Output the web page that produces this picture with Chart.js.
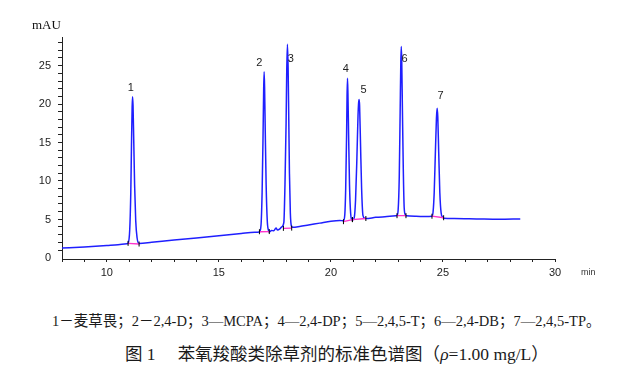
<!DOCTYPE html>
<html>
<head>
<meta charset="utf-8">
<script src="https://cdn.jsdelivr.net/npm/chart.js@4.4.0/dist/chart.umd.min.js"></script>
<style>
  html, body { margin: 0; padding: 0; background: #fff; }
  #wrap { position: relative; width: 640px; height: 381px; overflow: hidden; }
  #c { position: absolute; left: 0; top: 0; }
  .txt { position: absolute; white-space: nowrap; color: #111; }
  #mau { left: 32px; top: 17px; font: 13px "Liberation Serif", "DejaVu Serif", serif; }
  #minlbl { left: 581px; top: 267px; font: 9px "Liberation Sans", Arial, sans-serif; color: #333; }
  #cap1 { left: 52px; top: 309px; font: 14.5px "Liberation Serif", "Noto Sans CJK SC", serif; color: #1a1a1a; }
  #cap2 { left: 125px; top: 340px; font: 17.5px "Liberation Serif", "Noto Sans CJK SC", serif; color: #1a1a1a; }
  #cap2 .gap { display: inline-block; width: 22px; }
</style>
</head>
<body>
<div id="wrap">
  <canvas id="c" width="640" height="290"></canvas>
  <div class="txt" id="mau">mAU</div>
  <div class="txt" id="minlbl">min</div>
  <div class="txt" id="cap1">1－麦草畏；2－2,4-D；3—MCPA；4—2,4-DP；5—2,4,5-T；6—2,4-DB；7—2,4,5-TP。</div>
  <div class="txt" id="cap2">图 1<span class="gap"></span>苯氧羧酸类除草剂的标准色谱图（<i>ρ</i>=1.00 mg/L）</div>
</div>
<script>
// Chromatogram trace: retention time (min) and absorbance (mAU)
const traceTime = [
  8.0, 9.0, 10.0, 10.5, 10.9,
  10.95, 11.02, 11.07, 11.10, 11.13, 11.15, 11.17, 11.20, 11.24, 11.29, 11.35, 11.44,
  12.0, 13.0, 14.0, 15.0, 16.0, 16.6, 16.81,
  16.88, 16.93, 16.97, 17.00, 17.02, 17.04, 17.07, 17.11, 17.16, 17.21, 17.25,
  17.35, 17.45, 17.55, 17.62, 17.72, 17.80,
  17.90, 17.95, 18.00, 18.03, 18.06, 18.09, 18.12, 18.15, 18.19, 18.24, 18.30,
  18.6, 19.0, 19.5, 20.0, 20.4, 20.56,
  20.62, 20.66, 20.70, 20.72, 20.74, 20.76, 20.79, 20.83, 20.88, 20.94, 20.97,
  21.04, 21.10, 21.16, 21.21, 21.24, 21.26, 21.28, 21.32, 21.37, 21.43, 21.50, 21.56,
  22.0, 22.5, 22.9, 22.95,
  23.00, 23.05, 23.09, 23.12, 23.14, 23.16, 23.19, 23.23, 23.27, 23.32, 23.36,
  23.8, 24.2, 24.51,
  24.56, 24.61, 24.66, 24.71, 24.74, 24.77, 24.81, 24.86, 24.92, 24.98, 25.03,
  25.5, 26.5, 27.5, 28.45
];
const traceMAU = [
  0.25, 0.4, 0.6, 0.7, 0.82,
  0.9, 2.5, 7.5, 13.5, 18.6, 19.96, 18.8, 14.5, 8.5, 3.8, 1.6, 0.85,
  1.0, 1.3, 1.55, 1.85, 2.15, 2.3, 2.35,
  3.2, 7.5, 14.5, 21.0, 23.2, 21.3, 15.5, 8.5, 3.8, 2.6, 2.35,
  2.55, 2.5, 2.85, 2.6, 2.75, 3.0,
  3.6, 8.5, 16.5, 23.5, 26.8, 23.8, 17.0, 10.0, 4.8, 3.1, 2.95,
  3.05, 3.25, 3.5, 3.75, 3.85, 3.8,
  4.6, 8.0, 15.0, 20.0, 22.35, 20.3, 15.0, 8.5, 4.8, 3.9, 3.9,
  4.2, 6.5, 12.0, 17.5, 19.3, 19.6, 18.8, 14.0, 8.0, 4.5, 4.15, 4.1,
  4.25, 4.35, 4.45, 4.5,
  5.2, 9.5, 18.0, 24.5, 26.5, 24.8, 18.5, 10.5, 5.5, 4.6, 4.45,
  4.4, 4.35, 4.4,
  5.0, 7.5, 12.5, 17.2, 18.45, 17.3, 12.8, 7.5, 4.8, 4.3, 4.15,
  4.1, 4.05, 4.0, 4.05
];

// Integration baselines: start / end of each peak
const intStartT = [10.95, 16.81, 17.88, 20.56, 20.96, 22.95, 24.51];
const intStartY = [0.87, 2.38, 2.82, 3.69, 3.96, 4.47, 4.40];
const intEndT   = [11.44, 17.25, 18.25, 20.96, 21.56, 23.35, 25.03];
const intEndY   = [0.78, 2.40, 2.85, 3.96, 4.10, 4.47, 4.20];

// Peak number labels
const peakLabels = ['1', '2', '3', '4', '5', '6', '7'];
const labelT = [11.07, 16.81, 18.21, 20.67, 21.46, 23.29, 24.89];
const labelY = [21.1, 24.3, 24.83, 23.53, 20.83, 24.87, 20.1];

// Axis tick values
const xTickLabels = [10, 15, 20, 25, 30];
const yTickLabels = [0, 5, 10, 15, 20, 25];

const tracePts = traceTime.map((t, i) => ({ x: t, y: traceMAU[i] }));
const intPts = [];
const markPts = [];
intStartT.forEach((t, i) => {
  intPts.push({ x: t, y: intStartY[i] });
  intPts.push({ x: intEndT[i], y: intEndY[i] });
  intPts.push({ x: intEndT[i], y: null });
  markPts.push({ x: t, y: intStartY[i] });
  markPts.push({ x: intEndT[i], y: intEndY[i] });
});

const peakLabelPlugin = {
  id: 'peakLabels',
  afterDatasetsDraw(chart) {
    const { ctx, scales } = chart;
    ctx.save();
    ctx.fillStyle = '#222';
    ctx.font = '11px "Liberation Sans", Arial, sans-serif';
    ctx.textAlign = 'center';
    ctx.textBaseline = 'middle';
    peakLabels.forEach((s, i) => {
      ctx.fillText(s, scales.x.getPixelForValue(labelT[i]), scales.y.getPixelForValue(labelY[i]));
    });
    ctx.restore();
  }
};

const intTicks = (min, max) => {
  const out = [];
  for (let v = min; v <= max; v++) out.push({ value: v });
  return out;
};

new Chart(document.getElementById('c'), {
  type: 'line',
  data: {
    datasets: [
      {
        type: 'scatter',
        data: markPts,
        pointStyle: 'line',
        rotation: 90,
        radius: 2.5,
        borderColor: '#000',
        borderWidth: 1,
        showLine: false
      },
      {
        data: intPts,
        borderColor: '#ff33cc',
        borderWidth: 1.3,
        pointRadius: 0,
        spanGaps: false,
        tension: 0
      },
      {
        data: tracePts,
        borderColor: '#1f1fff',
        borderWidth: 1.5,
        pointRadius: 0,
        cubicInterpolationMode: 'monotone'
      }
    ]
  },
  options: {
    responsive: false,
    animation: false,
    events: [],
    layout: { padding: { top: 37, right: 85, left: 0, bottom: 0 } },
    plugins: { legend: { display: false }, tooltip: { enabled: false } },
    scales: {
      x: {
        type: 'linear',
        min: 8,
        max: 30,
        afterBuildTicks: s => { s.ticks = intTicks(8, 30); },
        afterFit: s => { s.height = 31; },
        border: { display: true, color: '#222', width: 1 },
        grid: { drawOnChartArea: false, drawTicks: true, tickLength: 3, tickColor: '#222' },
        ticks: {
          autoSkip: false,
          maxRotation: 0,
          padding: 4,
          color: '#222',
          font: { family: '"Liberation Sans", Arial, sans-serif', size: 11 },
          callback: v => xTickLabels.includes(v) ? String(v) : ''
        }
      },
      y: {
        type: 'linear',
        min: -1.17,
        max: 27.73,
        afterBuildTicks: s => { s.ticks = intTicks(0, 27); },
        afterFit: s => { s.width = 62; },
        border: { display: true, color: '#222', width: 1 },
        grid: { drawOnChartArea: false, drawTicks: true, tickLength: 4, tickColor: '#222' },
        ticks: {
          autoSkip: false,
          padding: 7,
          labelOffset: 8,
          color: '#222',
          font: { family: '"Liberation Sans", Arial, sans-serif', size: 11 },
          callback: v => yTickLabels.includes(v) ? String(v) : ''
        }
      }
    }
  },
  plugins: [peakLabelPlugin]
});
</script>
</body>
</html>
